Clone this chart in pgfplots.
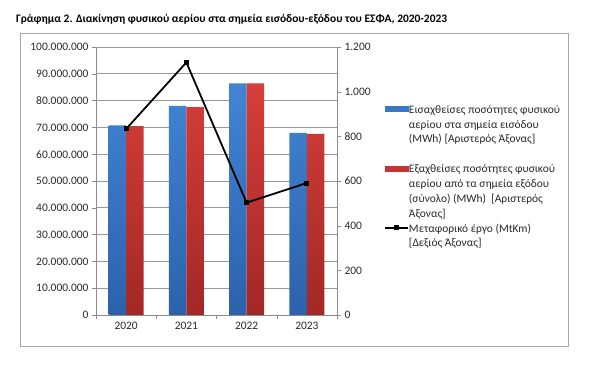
\documentclass[border=0pt]{standalone}
\usepackage{pgfplots}
\pgfplotsset{compat=1.18}
\usepackage{fontspec}
\setmainfont{Carlito}
\definecolor{bluetop}{RGB}{66,132,212}
\definecolor{bluebot}{RGB}{44,98,172}
\definecolor{redtop}{RGB}{214,62,58}
\definecolor{redbot}{RGB}{162,40,38}
\definecolor{barblue}{RGB}{58,120,198}
\definecolor{barred}{RGB}{196,52,50}
\definecolor{txt}{RGB}{40,40,40}
\pgfplotsset{
  linelegend/.style={legend image code/.code={\draw[mark repeat=2,mark phase=2,##1] plot coordinates {(0bp,0bp) (11.5bp,0bp) (23bp,0bp)};}},
}
\begin{document}
\begin{tikzpicture}
\path[use as bounding box] (0bp,0bp) rectangle (600bp,365bp);
\draw[black!35, line width=1bp] (20bp,18bp) rectangle (568bp,331bp);
\node[anchor=base west, inner sep=0pt, font=\bfseries\fontsize{11.5}{14}\selectfont] at (16bp,342bp)
  {Γράφημα 2. Διακίνηση φυσικού αερίου στα σημεία εισόδου-εξόδου του ΕΣΦΑ, 2020-2023};

\begin{axis}[
  at={(96bp,50bp)}, anchor=south west,
  width=241bp, height=268bp, scale only axis,
  xmin=-0.5, xmax=3.5, ymin=0, ymax=100000000,
  axis x line*=bottom, axis y line*=left,
  axis line style={black!45},
  xtick={0,1,2,3}, xticklabels={2020,2021,2022,2023},
  major x tick style={draw=none},
  minor xtick={-0.5,0.5,1.5,2.5,3.5},
  minor x tick style={black!45},
  ytick={0,10000000,...,100000000},
  y tick style={black!45},
  tick align=outside, major tick length=4bp, minor tick length=4bp,
  scaled y ticks=false,
  yticklabel style={/pgf/number format/.cd, fixed, 1000 sep={.}},
  /pgf/number format/assume math mode=true,
  ymajorgrids, grid style={black!40, line width=0.6bp},
  tick label style={font=\fontsize{11.5}{13}\selectfont, text=txt},
  ybar=0pt, bar width=17.5bp,
]
\addplot[draw=none, top color=bluetop, bottom color=bluebot] coordinates {(0,70800000) (1,78000000) (2,86400000) (3,68000000)};
\addplot[draw=none, top color=redtop, bottom color=redbot] coordinates {(0,70500000) (1,77600000) (2,86400000) (3,67600000)};
\end{axis}

\begin{axis}[
  at={(96bp,50bp)}, anchor=south west,
  width=241bp, height=268bp, scale only axis,
  xmin=-0.5, xmax=3.5, ymin=0, ymax=1200,
  axis x line=none, axis y line*=right,
  axis line style={black!45},
  ytick={0,200,...,1200},
  y tick style={black!45},
  tick align=outside, major tick length=4bp,
  yticklabel style={/pgf/number format/.cd, fixed, 1000 sep={.}},
  /pgf/number format/assume math mode=true,
  tick label style={font=\fontsize{11.5}{13}\selectfont, text=txt},
  legend style={draw=none, fill=none, at={(1.195,0.79)}, anchor=north west,
    font=\fontsize{11.5}{14}\selectfont, text=txt, row sep=3.6bp, column sep=0bp,
    inner sep=0pt, nodes={inner sep=0pt}, cells={anchor=west}},
]
\addlegendimage{legend image code/.code={\fill[barblue] (0bp,-2.5bp) rectangle (23bp,2.5bp);}}
\addlegendentry{\strut Εισαχθείσες ποσότητες φυσικού}
\addlegendimage{empty legend}\addlegendentry{\strut αερίου στα σημεία εισόδου}
\addlegendimage{empty legend}\addlegendentry{\strut (MWh) [Αριστερός Άξονας]}
\addlegendimage{empty legend}\addlegendentry{\strut}
\addlegendimage{legend image code/.code={\fill[barred] (0bp,-2.5bp) rectangle (23bp,2.5bp);}}
\addlegendentry{\strut Εξαχθείσες ποσότητες φυσικού}
\addlegendimage{empty legend}\addlegendentry{\strut αερίου από τα σημεία εξόδου}
\addlegendimage{empty legend}\addlegendentry{\strut (σύνολο) (MWh)\ \ [Αριστερός}
\addlegendimage{empty legend}\addlegendentry{\strut Άξονας]}
\addplot[black, line width=1.8bp, mark=square*, mark size=1.6bp, linelegend]
  coordinates {(0,833) (1,1131) (2,503) (3,591)};
\addlegendentry{\strut Μεταφορικό έργο (MtKm)}
\addlegendimage{empty legend}\addlegendentry{\strut [Δεξιός Άξονας]}
\end{axis}
\end{tikzpicture}
\end{document}
